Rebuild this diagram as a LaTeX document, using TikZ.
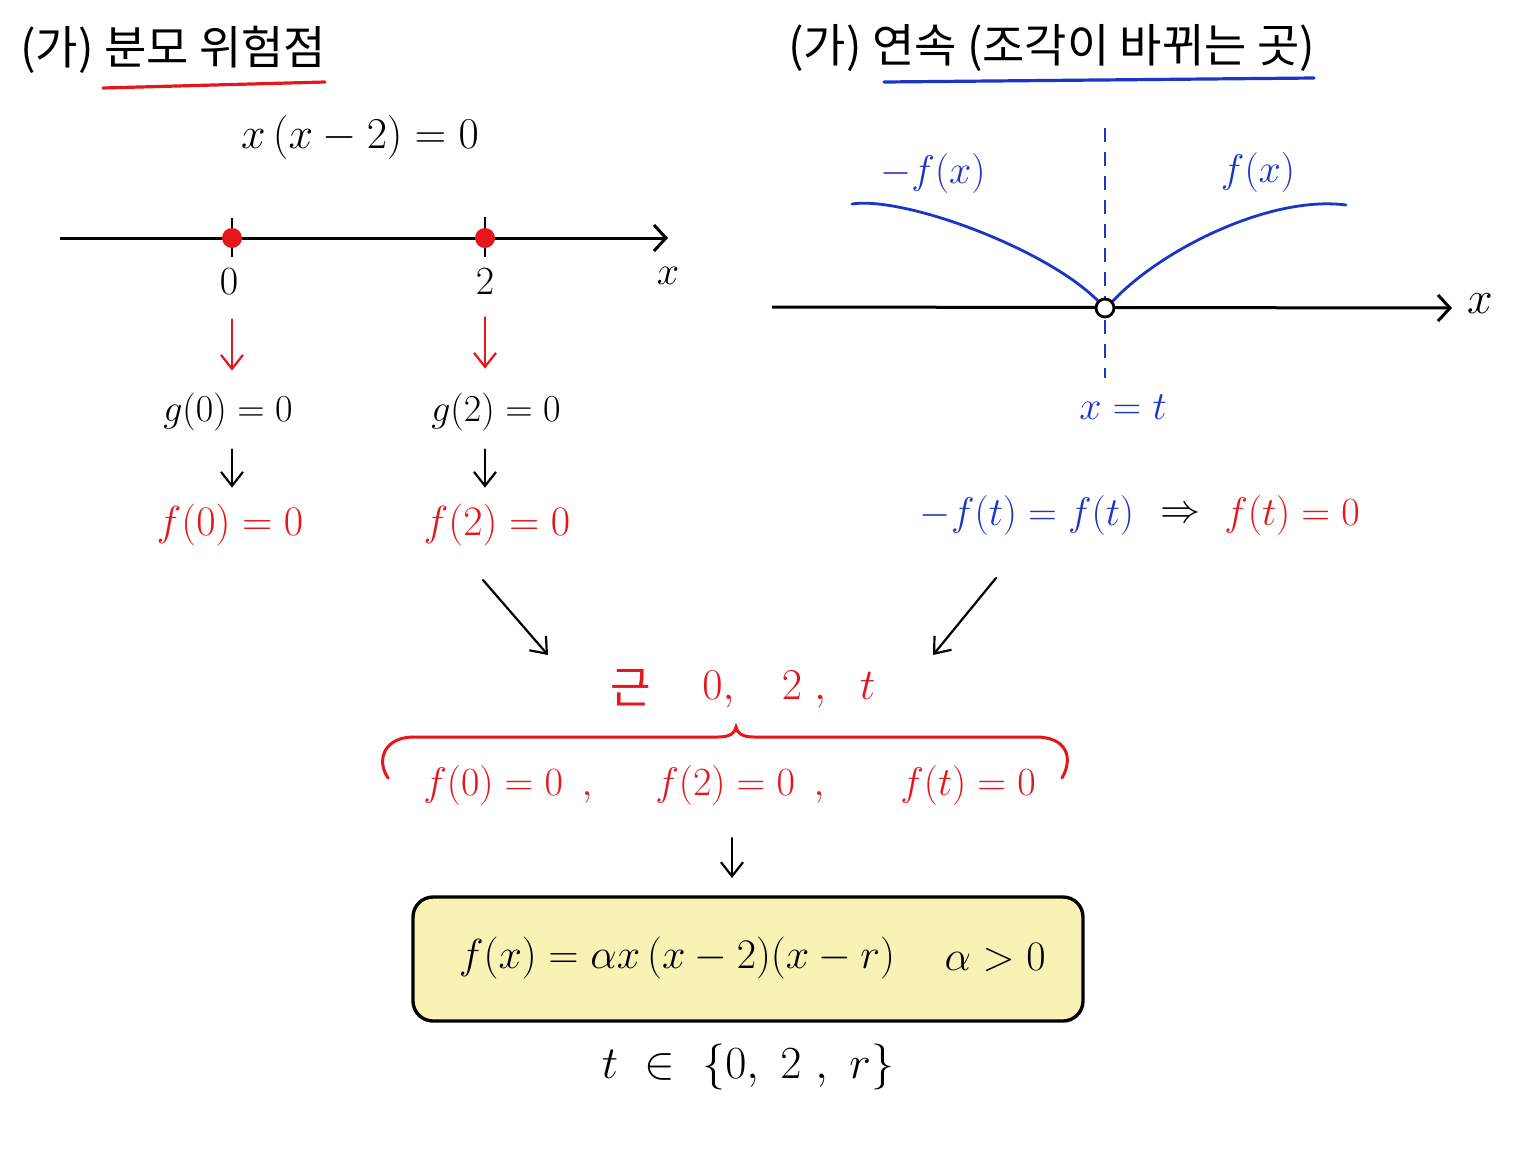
\RequirePackage{fix-cm}
\documentclass[tikz,border=0pt]{standalone}
\usepackage{fontspec}
\newfontfamily\kr{Noto Sans CJK KR}
\usetikzlibrary{arrows.meta}
\definecolor{myred}{RGB}{230,22,28}
\definecolor{myblue}{RGB}{28,52,200}
\definecolor{boxfill}{RGB}{248,243,180}
\begin{document}
\begin{tikzpicture}[x=0.5pt,y=-0.5pt,
  head/.style={font=\kr\fontsize{23}{27}\selectfont, inner sep=0, anchor=west},
  mth/.style={font=\fontsize{20}{24}\selectfont, inner sep=0},
  mthm/.style={font=\fontsize{21}{25}\selectfont, inner sep=0},
  mths/.style={font=\fontsize{19}{22}\selectfont, inner sep=0},
  mthl/.style={font=\fontsize{22}{26}\selectfont, inner sep=0},
  arr/.style={-{Straight Barb[length=7pt,width=11pt]}, line width=1.1pt, line cap=round},
  axis/.style={line width=1.5pt, -{Straight Barb[length=6pt,width=13pt]}},
  curve/.style={myblue, line width=1.4pt, line cap=round},
  ]
\useasboundingbox (0,0) rectangle (1536,1152);
\fill[white] (0,0) rectangle (1536,1152);

% ---------- left panel ----------
\node[head] (hL) at (20,50) {(가) 분모 위험점};
\draw[myred, line width=1.6pt, line cap=round] (103,88) -- (325,82);
\node[mthl] (eq) at (360,137) {$x\,(x-2)=0$};

\coordinate (axLs) at (60,238);
\coordinate (axLe) at (668,238);
\draw[axis] (axLs) -- (axLe);
\draw[line width=1.4pt] (232,218) -- (232,257);
\draw[line width=1.4pt] (485,217) -- (485,257);
\node[circle, fill=myred, inner sep=0, minimum size=10pt] (d0) at (232,238) {};
\node[circle, fill=myred, inner sep=0, minimum size=10pt] (d2) at (485,238) {};
\node[mth] (l0) at (229,282) {$0$};
\node[mth] (l2) at (485,282) {$2$};
\node[mth] (lx) at (668,276) {$x$};

\node[mths] (g0) at (228,412) {$g(0)=0$};
\node[mths] (g2) at (496,412) {$g(2)=0$};
\node[mthm, text=myred] (f0) at (230,525) {$f(0)=0$};
\node[mthm, text=myred] (f2) at (497,525) {$f(2)=0$};

\draw[arr, myred, shorten <=12pt, shorten >=11pt] (l0.south -| d0) -- (d0 |- g0.north);
\draw[arr, myred, shorten <=11pt, shorten >=12pt] (l2.south -| d2) -- (d2 |- g2.north);
\draw[arr, shorten <=9pt, shorten >=8pt] (g0.south -| d0) -- (d0 |- f0.north);
\draw[arr, shorten <=9pt, shorten >=8pt] (g2.south -| d2) -- (d2 |- f2.north);

% ---------- right panel ----------
\node[head] (hR) at (788,48) {(가) 연속 (조각이 바뀌는 곳)};
\draw[myblue, line width=1.6pt, line cap=round] (884,82) -- (1314,78);

\coordinate (axRs) at (772,307);
\coordinate (axRe) at (1452,308);
\draw[axis] (axRs) -- (axRe);
\node[mth, font=\fontsize{23}{27}\selectfont] (rx) at (1480,304) {$x$};
\draw[myblue, line width=1.3pt, dash pattern=on 7pt off 5pt] (1105,128) -- (1105,378);
\draw[curve] (852,204) .. controls (905,196) and (1050,250) .. (1100,303);
\draw[curve] (1112,302) .. controls (1160,250) and (1270,195) .. (1346,205);
\node[circle, draw, fill=white, line width=1.4pt, inner sep=0, minimum size=9pt] (oc) at (1105,308) {};
\node[mth, text=myblue] (mfx) at (933,173) {$-f(x)$};
\node[mth, text=myblue] (pfx) at (1258,172) {$f(x)$};
\node[mth, text=myblue] (xt) at (1123,407) {$x=t$};

\node[mth, text=myblue] (ft1) at (1027,515) {$-f(t)=f(t)$};
\node[mth] (impl) at (1180,515) {$\Rightarrow$};
\node[mth, text=myred] (ft2) at (1292,515) {$f(t)=0$};

% ---------- middle ----------
\node[inner sep=0, text=myred, font=\kr\fontsize{22}{26}\selectfont] (rk) at (631,688) {근};
\node[mthl, text=myred, anchor=west] (roots) at (702,690) {$0,\ \ \ 2\;,\ \ t$};
\coordinate (a1s) at (483,580);
\coordinate (a1e) at (548,655);
\coordinate (a2s) at (996,578);
\coordinate (a2e) at (933,655);
\draw[arr] (a1s) -- (a1e);
\draw[arr] (a2s) -- (a2e);

\draw[myred, line width=1.5pt, line cap=round]
  (388,778) .. controls (376,760) and (384,738) .. (412,737)
  -- (718,737) .. controls (730,737) and (735,733) .. (736,727)
  .. controls (737,733) and (742,737) .. (754,737)
  -- (1036,737) .. controls (1066,737) and (1074,757) .. (1062,778);

\node[mth, text=myred] (r0) at (508,785) {$f(0)=0\ \,,$};
\node[mth, text=myred] (r2) at (740,785) {$f(2)=0\ \,,$};
\node[mth, text=myred] (rt) at (968,785) {$f(t)=0$};

\node[draw, line width=1.7pt, rounded corners=10pt, fill=boxfill,
      minimum width=335pt, minimum height=62pt, inner sep=0] (box) at (748,959) {};
\node[mthm] (fx) at (677,958) {$f(x)=\alpha x\,(x-2)(x-r)$};
\node[mthm] (ap) at (995,958) {$\alpha>0$};
\coordinate (a3s) at (732,838);
\coordinate (a3e) at (732,878);
\draw[arr] (a3s) -- (a3e);

\node[font=\fontsize{23}{27}\selectfont, inner sep=0] (tset) at (748,1067) {$t\ \in\ \{0,\ 2\ ,\ r\}$};
\end{tikzpicture}
\end{document}
